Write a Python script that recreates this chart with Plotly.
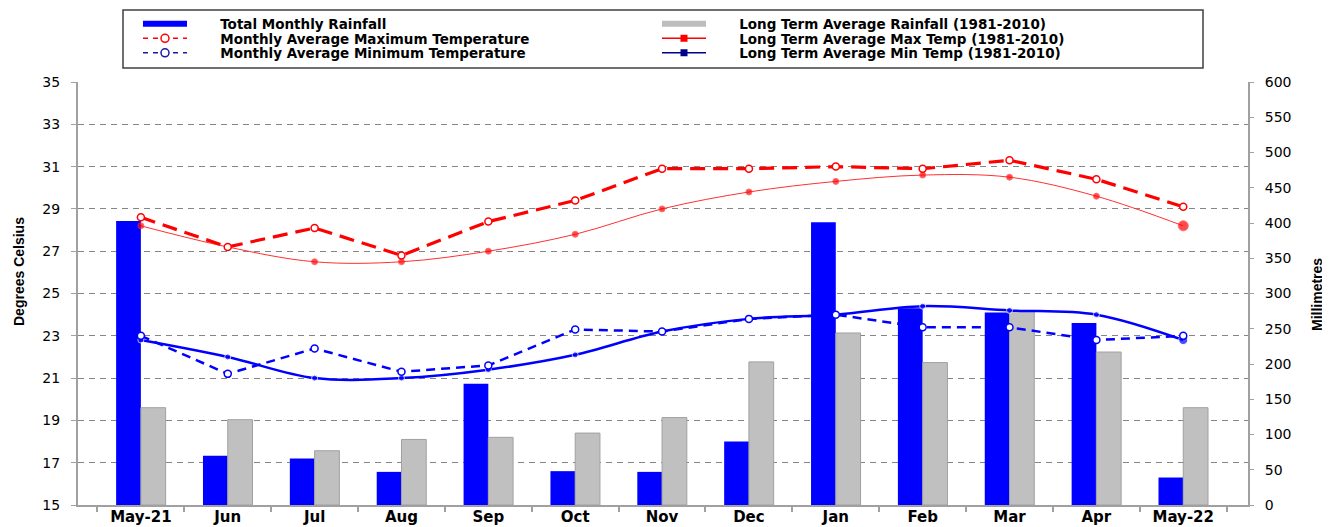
import plotly.graph_objects as go

months = ["May-21", "Jun", "Jul", "Aug", "Sep", "Oct", "Nov", "Dec", "Jan", "Feb", "Mar", "Apr", "May-22"]
rain_total = [403, 70, 66, 47, 172, 48, 47, 90, 401, 279, 273, 258, 39]
rain_lt = [138, 121, 77, 93, 96, 102, 124, 203, 244, 202, 276, 217, 138]
tmax = [28.6, 27.2, 28.1, 26.8, 28.4, 29.4, 30.9, 30.9, 31.0, 30.9, 31.3, 30.4, 29.1]
tmax_lt = [28.2, 27.2, 26.5, 26.5, 27.0, 27.8, 29.0, 29.8, 30.3, 30.6, 30.5, 29.6, 28.2]
tmin = [23.0, 21.2, 22.4, 21.3, 21.6, 23.3, 23.2, 23.8, 24.0, 23.4, 23.4, 22.8, 23.0]
tmin_lt = [22.8, 22.0, 21.0, 21.0, 21.4, 22.1, 23.2, 23.8, 24.0, 24.4, 24.2, 24.0, 22.8]

temp_ticks = list(range(15, 36, 2))
rain_ticks = list(range(0, 601, 50))

BLUE = "#0000ff"
GREY = "#c0c0c0"
RED = "#ff0000"
NB = "\u00a0" * 6

fig = go.Figure()

# Rainfall bars (right axis, drawn underneath)
fig.add_trace(go.Bar(x=months, y=rain_total, yaxis="y", marker=dict(color=BLUE, line=dict(width=0)),
                     showlegend=False, name="Total Monthly Rainfall"))
fig.add_trace(go.Bar(x=months, y=rain_lt, yaxis="y", marker=dict(color=GREY, line=dict(color="#a0a0a0", width=1)),
                     showlegend=False, name="Long Term Average Rainfall (1981-2010)"))

# Temperature lines (left axis, on top)
fig.add_trace(go.Scatter(x=months, y=tmax_lt, yaxis="y2", mode="lines+markers",
                         line=dict(color="#ff3030", width=1, shape="spline", smoothing=1),
                         marker=dict(color=RED, size=[6] * 12 + [10], symbol="circle"),
                         showlegend=False))
fig.add_trace(go.Scatter(x=months, y=tmin_lt, yaxis="y2", mode="lines+markers",
                         line=dict(color=BLUE, width=2.5, shape="spline", smoothing=1),
                         marker=dict(color=BLUE, size=[6] * 12 + [9], symbol="circle"),
                         showlegend=False))
fig.add_trace(go.Scatter(x=months, y=tmax, yaxis="y2", mode="lines+markers",
                         line=dict(color=RED, width=3.2, dash="15px,8px"),
                         marker=dict(color="white", size=7, symbol="circle", line=dict(color=RED, width=1.5)),
                         showlegend=False))
fig.add_trace(go.Scatter(x=months, y=tmin, yaxis="y2", mode="lines+markers",
                         line=dict(color=BLUE, width=2.5, dash="9px,6px"),
                         marker=dict(color="white", size=7, symbol="circle", line=dict(color=BLUE, width=1.5)),
                         showlegend=False))

# Legend entries (one legend per row/column so the rows sit where the reference has them)
leg_font = dict(family="DejaVu Sans", size=13.5, color="black", weight="bold")
fig.add_trace(go.Scatter(x=[None], y=[None], mode="lines", line=dict(color=BLUE, width=6),
                         name=NB + "Total Monthly Rainfall", legend="legend"))
fig.add_trace(go.Scatter(x=[None], y=[None], mode="lines+markers", line=dict(color=RED, width=1.5, dash="5px,5px"),
                         marker=dict(color="white", size=8, line=dict(color=RED, width=1.5)),
                         name=NB + "Monthly Average Maximum Temperature", legend="legend2"))
fig.add_trace(go.Scatter(x=[None], y=[None], mode="lines+markers", line=dict(color="#1a1aa0", width=1.5, dash="5px,5px"),
                         marker=dict(color="white", size=8, line=dict(color="#1a1aa0", width=1.5)),
                         name=NB + "Monthly Average Minimum Temperature", legend="legend3"))
fig.add_trace(go.Scatter(x=[None], y=[None], mode="lines", line=dict(color="#bdbdbd", width=6),
                         name=NB + "Long Term Average Rainfall (1981-2010)", legend="legend4"))
fig.add_trace(go.Scatter(x=[None], y=[None], mode="lines+markers", line=dict(color=RED, width=1.5),
                         marker=dict(color=RED, size=7, symbol="square"),
                         name=NB + "Long Term Average Max Temp (1981-2010)", legend="legend5"))
fig.add_trace(go.Scatter(x=[None], y=[None], mode="lines+markers", line=dict(color="#00008b", width=1.5),
                         marker=dict(color="#00008b", size=7, symbol="square"),
                         name=NB + "Long Term Average Min Temp (1981-2010)", legend="legend6"))

# The page body adds an 8px margin, so the figure is sized to fit the window after that offset.
OFF = 8
W, H = 1330 - OFF, 527 - OFF
L, R, T, B = 78 - OFF, 1330 - 1248, 82 - OFF, 22
pw, ph = W - L - R, H - T - B


def px_x(p):  # screen pixel -> paper x
    return (p - OFF - L) / pw


def px_y(p):  # screen pixel -> paper y
    return (H - B - (p - OFF)) / ph


legend_common = dict(font=leg_font, bgcolor="rgba(0,0,0,0)", borderwidth=0, itemwidth=44,
                     orientation="v", xanchor="left", yanchor="middle", traceorder="normal",
                     tracegroupgap=0, itemclick=False, itemdoubleclick=False)

rows = [24, 38.5, 53]
cols = [138, 657]
legends = {}
names = ["legend", "legend2", "legend3", "legend4", "legend5", "legend6"]
for i, nm in enumerate(names):
    legends[nm] = dict(x=px_x(cols[i // 3]), y=px_y(rows[i % 3]), **legend_common)

fig.update_layout(
    width=W, height=H,
    margin=dict(l=L, r=R, t=T, b=B, autoexpand=False),
    paper_bgcolor="white", plot_bgcolor="white",
    barmode="group", bargap=0.43, bargroupgap=0,
    font=dict(family="DejaVu Sans", color="black"),
    xaxis=dict(type="category", categoryorder="array", categoryarray=months,
               showline=True, linecolor="#a0a0a0", linewidth=2, mirror=False,
               ticks="outside", ticklen=5, tickcolor="#a0a0a0", tickwidth=1.5, tickson="boundaries",
               ticklabelstandoff=-3,
               showgrid=False, tickfont=dict(family="DejaVu Sans", size=15, color="black", weight="bold"),
               automargin=False),
    yaxis=dict(range=[0, 600], side="right", tickvals=rain_ticks, showgrid=False, zeroline=False,
               showline=True, linecolor="#a0a0a0", linewidth=2,
               ticks="outside", ticklen=4, tickcolor="#a0a0a0", ticklabelstandoff=8,
               tickfont=dict(family="DejaVu Sans", size=14, color="black"), automargin=False),
    yaxis2=dict(range=[15, 35], overlaying="y", side="left", tickvals=temp_ticks,
                showgrid=True, gridcolor="#858585", gridwidth=1.3, griddash="6px,5px", zeroline=False,
                showline=True, linecolor="#a0a0a0", linewidth=2,
                ticks="outside", ticklen=5, tickcolor="#a0a0a0", ticklabelstandoff=8,
                tickfont=dict(family="DejaVu Sans", size=14, color="black"), automargin=False),
    shapes=[dict(type="rect", xref="paper", yref="paper",
                 x0=px_x(123), x1=px_x(1203), y0=px_y(68), y1=px_y(10),
                 line=dict(color="#404040", width=1.5), fillcolor="rgba(0,0,0,0)", layer="above")],
    annotations=[
        dict(text="Degrees Celsius", xref="paper", yref="paper", x=px_x(19), y=px_y(272),
             textangle=-90, showarrow=False, xanchor="center", yanchor="middle",
             font=dict(family="Liberation Sans", size=14, color="black", weight="bold")),
        dict(text="Millimetres", xref="paper", yref="paper", x=px_x(1317), y=px_y(295),
             textangle=-90, showarrow=False, xanchor="center", yanchor="middle",
             font=dict(family="Liberation Sans", size=14, color="black", weight="bold")),
    ],
    **legends,
)

fig.write_html("out.html")
